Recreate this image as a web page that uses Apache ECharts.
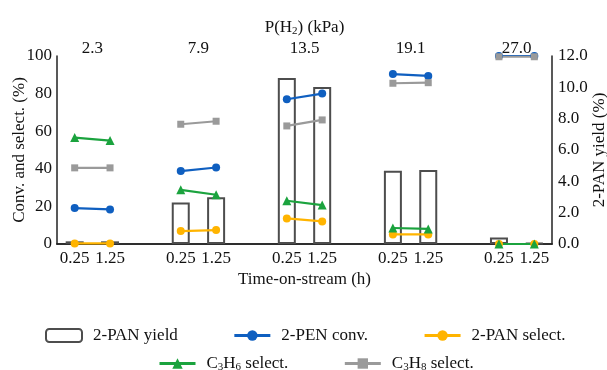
<!DOCTYPE html>
<html>
<head>
<meta charset="utf-8">
<script src="https://cdn.jsdelivr.net/npm/echarts@6/dist/echarts.min.js"></script>
<style>html,body{margin:0;padding:0;background:#fff;}#c{width:607px;height:370px;}</style>
</head>
<body>
<div id="c"></div>
<script>
const categories = ['0.25','1.25','','0.25','1.25','','0.25','1.25','','0.25','1.25','','0.25','1.25'];
const pressureLabels = ['2.3','7.9','13.5','19.1','27.0'];
const yieldPAN = [0.17,0.17,null,2.65,2.98,null,10.6,10.02,null,4.68,4.72,null,0.42,0.05];
const convPEN  = [19.1,18.4,null,38.8,40.7,null,77.0,80.0,null,90.4,89.4,null,100,100];
const selPAN   = [0.3,0.3,null,6.9,7.4,null,13.6,12.0,null,5.1,5.1,null,0,0];
const selC3H6  = [56.6,55.0,null,28.8,26.2,null,23.0,20.7,null,8.5,8.0,null,0,0];
const selC3H8  = [40.5,40.5,null,63.7,65.3,null,62.8,66.0,null,85.5,85.8,null,99.6,99.6];

const FONT = 'Liberation Serif';
const FS = 17;
const txt = {fontFamily: FONT, fontSize: FS, color: '#111'};
const rich = {
  n: {fontFamily: FONT, fontSize: FS, color: '#111'},
  s: {fontFamily: FONT, fontSize: 11, color: '#111', padding: [7, 0, 0, 0]}
};
const topMap = {};
pressureLabels.forEach((p, i) => { topMap[1 + 3 * i] = p; });

const chart = echarts.init(document.getElementById('c'), null, {renderer: 'canvas'});
const lineSeries = (name, data, color, symbol, size) => ({
  name, type: 'line', data, yAxisIndex: 0, xAxisIndex: 0,
  connectNulls: false, symbol, symbolSize: size,
  lineStyle: {color, width: 2.2}, itemStyle: {color}, z: 3
});
const axisLine = {show: true, lineStyle: {color: '#222', width: 1.5}};
chart.setOption({
  animation: false,
  grid: {left: 57, right: 55, top: 56, height: 188, containLabel: false, outerBoundsMode: 'none'},
  legend: [
    {left: 45, top: 327, padding: 0, itemWidth: 36, itemHeight: 13, itemGap: 55,
     lineStyle: {width: 3},
     textStyle: Object.assign({padding: [0, 0, 0, 6]}, txt),
     data: ['2-PAN yield', '2-PEN conv.', '2-PAN select.']},
    {left: 158, top: 355, padding: 0, itemWidth: 36, itemHeight: 13, itemGap: 55,
     lineStyle: {width: 3},
     textStyle: Object.assign({padding: [0, 0, 0, 6], rich}, txt),
     formatter: n => n === 'C3H6 select.' ? '{n|C}{s|3}{n|H}{s|6}{n| select.}' : '{n|C}{s|3}{n|H}{s|8}{n| select.}',
     data: ['C3H6 select.', 'C3H8 select.']}
  ],
  xAxis: [
    {type: 'category', data: categories, position: 'bottom', boundaryGap: true,
     axisLine, axisTick: {show: false},
     axisLabel: Object.assign({interval: 0, margin: 6}, txt),
     name: 'Time-on-stream (h)', nameLocation: 'middle', nameGap: 27, nameMoveOverlap: false,
     nameTextStyle: txt},
    {type: 'value', min: 0, max: 14, interval: 1, position: 'top',
     axisLine, axisTick: {show: false}, splitLine: {show: false},
     axisLabel: Object.assign({margin: -1, formatter: v => topMap[v] || ''}, txt),
     name: '{n|P(H}{s|2}{n|) (kPa)}', nameLocation: 'middle', nameGap: 19, nameMoveOverlap: false,
     nameTextStyle: Object.assign({rich}, txt)}
  ],
  yAxis: [
    {type: 'value', min: 0, max: 100, interval: 20, position: 'left',
     axisLine, axisTick: {show: false}, splitLine: {show: false},
     axisLabel: Object.assign({margin: 5}, txt),
     name: 'Conv. and select. (%)', nameLocation: 'middle', nameGap: 29, nameMoveOverlap: false,
     nameTextStyle: txt},
    {type: 'value', min: 0, max: 12, interval: 2, position: 'right',
     axisLine, axisTick: {show: false}, splitLine: {show: false},
     axisLabel: Object.assign({margin: 6, formatter: v => v.toFixed(1)}, txt),
     name: '2-PAN yield (%)', nameLocation: 'middle', nameGap: 39, nameMoveOverlap: false,
     nameTextStyle: txt}
  ],
  series: [
    {name: '2-PAN yield', type: 'bar', data: yieldPAN, yAxisIndex: 1, xAxisIndex: 0,
     barWidth: 18, itemStyle: {color: 'rgba(255,255,255,0)', borderColor: '#4d4d4d', borderWidth: 2}, z: 2},
    lineSeries('2-PEN conv.', convPEN, '#0f5fc0', 'circle', 8),
    lineSeries('2-PAN select.', selPAN, '#ffb400', 'circle', 8),
    lineSeries('C3H6 select.', selC3H6, '#1ba33e', 'triangle', 9),
    lineSeries('C3H8 select.', selC3H8, '#9a9a9a', 'rect', 7)
  ]
});
</script>
</body>
</html>
